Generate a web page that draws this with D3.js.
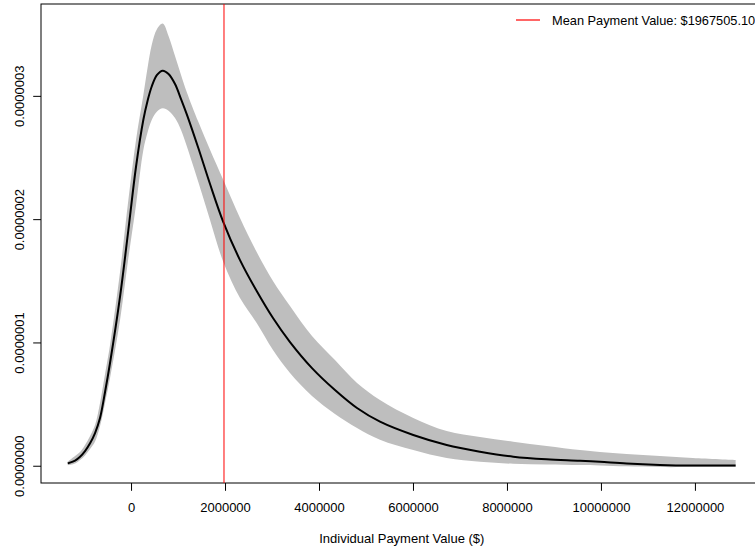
<!DOCTYPE html>
<html>
<head>
<meta charset="utf-8">
<script src="https://cdn.jsdelivr.net/npm/d3@7"></script>
<style>
  html, body { margin: 0; padding: 0; background: #fff; }
  svg { display: block; font-family: "Liberation Sans", Arial, Helvetica, sans-serif; }
</style>
</head>
<body>
<svg id="chart" width="755" height="552"></svg>
<script>
// ---- Data ----
const paymentValues = [-1347000, -1191000, -1085000, -979000, -872000, -766000, -660000, -553000, -447000, -234000,
  -57000, 106000, 262000, 351000, 440000, 553000, 674000, 798000, 936000, 1064000,
  1185000, 1432000, 1681000, 1964000, 2319000, 2674000, 3021000, 3383000, 3851000, 4340000,
  4809000, 5298000, 6006000, 6717000, 7426000, 8134000, 8845000, 9553000, 9979000, 10547000,
  11255000, 11957000, 12866000];
const meanDensity = [0.019e-7, 0.042e-7, 0.073e-7, 0.119e-7, 0.182e-7, 0.265e-7, 0.387e-7, 0.598e-7, 0.833e-7, 1.371e-7,
  1.912e-7, 2.425e-7, 2.806e-7, 2.959e-7, 3.076e-7, 3.170e-7, 3.204e-7, 3.177e-7, 3.096e-7, 2.974e-7,
  2.852e-7, 2.577e-7, 2.285e-7, 1.976e-7, 1.668e-7, 1.417e-7, 1.198e-7, 1.003e-7, 0.792e-7, 0.614e-7,
  0.468e-7, 0.357e-7, 0.249e-7, 0.168e-7, 0.114e-7, 0.073e-7, 0.052e-7, 0.041e-7, 0.032e-7, 0.018e-7,
  0.007e-7, 0.002e-7, 0.002e-7];
const upperDensity = [0.034e-7, 0.079e-7, 0.111e-7, 0.168e-7, 0.241e-7, 0.330e-7, 0.509e-7, 0.744e-7, 0.979e-7, 1.571e-7,
  2.155e-7, 2.642e-7, 3.006e-7, 3.225e-7, 3.412e-7, 3.542e-7, 3.586e-7, 3.486e-7, 3.324e-7, 3.170e-7,
  3.032e-7, 2.789e-7, 2.562e-7, 2.317e-7, 2.009e-7, 1.733e-7, 1.498e-7, 1.295e-7, 1.052e-7, 0.857e-7,
  0.671e-7, 0.533e-7, 0.387e-7, 0.281e-7, 0.233e-7, 0.195e-7, 0.160e-7, 0.127e-7, 0.111e-7, 0.095e-7,
  0.079e-7, 0.062e-7, 0.046e-7];
const lowerDensity = [0.004e-7, 0.018e-7, 0.046e-7, 0.083e-7, 0.135e-7, 0.196e-7, 0.322e-7, 0.509e-7, 0.711e-7, 1.182e-7,
  1.684e-7, 2.114e-7, 2.560e-7, 2.702e-7, 2.804e-7, 2.873e-7, 2.899e-7, 2.879e-7, 2.820e-7, 2.723e-7,
  2.593e-7, 2.301e-7, 1.993e-7, 1.652e-7, 1.360e-7, 1.157e-7, 0.938e-7, 0.752e-7, 0.565e-7, 0.419e-7,
  0.306e-7, 0.211e-7, 0.127e-7, 0.062e-7, 0.032e-7, 0.016e-7, 0.011e-7, 0.006e-7, 0.002e-7, -0.005e-7,
  -0.011e-7, -0.011e-7, -0.011e-7];
const meanPayment = 1967505.10;
const xTicks = [0, 2000000, 4000000, 6000000, 8000000, 10000000, 12000000];
const yTicks = [0, 1e-7, 2e-7, 3e-7];
const xTitle = "Individual Payment Value ($)";
const legendLabel = "Mean Payment Value: $" + meanPayment.toFixed(2);

// ---- Layout ----
const svg = d3.select("#chart");
const plot = { left: 41, right: 762.6, top: 4, bottom: 483 };
const fontSize = 13;
const RED = "#FF0000";

const x = d3.scaleLinear().domain([-1916000, 13440000]).range([plot.left, plot.right]);
const y = d3.scaleLinear().domain([-0.140e-7, 3.745e-7]).range([plot.bottom, plot.top]);

const rows = paymentValues.map((v, i) => ({ v, m: meanDensity[i], lo: lowerDensity[i], hi: upperDensity[i] }));

// band
const area = d3.area()
  .x(d => x(d.v)).y0(d => y(d.lo)).y1(d => y(d.hi))
  .curve(d3.curveCatmullRom);
svg.append("path").datum(rows).attr("d", area).style("fill", "#BEBEBE").style("stroke", "none");

// mean line
const line = d3.line().x(d => x(d.v)).y(d => y(d.m)).curve(d3.curveCatmullRom);
svg.append("path").datum(rows).attr("d", line)
  .style("fill", "none").style("stroke", "#000").style("stroke-width", 2).style("stroke-linejoin", "round");

// box
svg.append("rect")
  .attr("x", plot.left).attr("y", plot.top)
  .attr("width", plot.right - plot.left).attr("height", plot.bottom - plot.top)
  .style("fill", "none").style("stroke", "#000").style("stroke-width", 1);

// mean vertical line (anti-aliased over two pixel columns, as in the reference)
const xm = x(meanPayment) + 0.5;
svg.append("line")
  .attr("x1", xm).attr("x2", xm)
  .attr("y1", plot.top).attr("y2", plot.bottom)
  .style("stroke", RED).style("stroke-width", 1);

// x axis
const xAxis = d3.axisBottom(x).tickValues(xTicks).tickFormat(d3.format("d")).tickSize(7.8).tickSizeOuter(0);
const gx = svg.append("g").attr("transform", `translate(0,${plot.bottom})`).call(xAxis);
gx.select(".domain").remove();
gx.selectAll("line").attr("stroke", "#000");
gx.selectAll("text").attr("font-size", fontSize).attr("font-family", null).attr("fill", "#000")
  .attr("dy", null).attr("y", 29);

// y axis
const yAxis = d3.axisLeft(y).tickValues(yTicks).tickFormat(d3.format(".7f")).tickSize(7.8).tickSizeOuter(0);
const gy = svg.append("g").attr("transform", `translate(${plot.left},0)`).call(yAxis);
gy.select(".domain").remove();
gy.selectAll("line").attr("stroke", "#000");
gy.selectAll("text").each(function(d) {
  d3.select(this)
    .attr("x", null).attr("dy", null)
    .attr("transform", `translate(${-17},0) rotate(-90)`)
    .attr("text-anchor", "middle")
    .attr("y", 0)
    .attr("font-size", fontSize).attr("font-family", null).attr("fill", "#000");
});

// x title
svg.append("text")
  .attr("x", (plot.left + plot.right) / 2).attr("y", 543)
  .attr("text-anchor", "middle").attr("font-size", fontSize).attr("fill", "#000")
  .text(xTitle);

// legend
svg.append("line").attr("x1", 516).attr("x2", 540).attr("y1", 20).attr("y2", 20)
  .style("stroke", RED).style("stroke-width", 1.2);
svg.append("text").attr("x", 552).attr("y", 24.5)
  .attr("font-size", 12.8).attr("fill", "#000").text(legendLabel);
</script>
</body>
</html>
